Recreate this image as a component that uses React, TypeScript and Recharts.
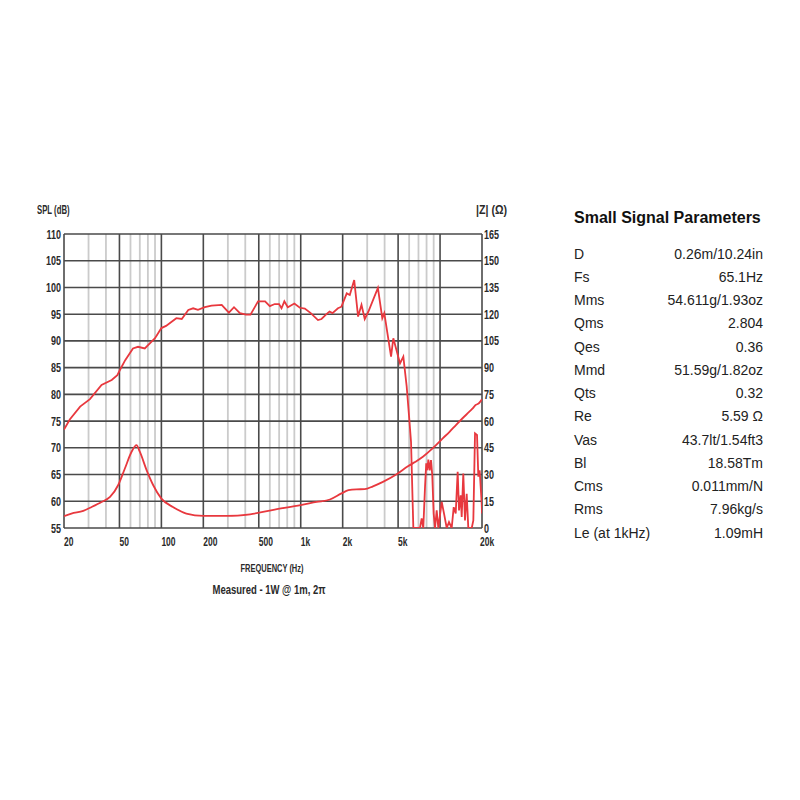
import React from "react";
import { LineChart, Line, XAxis, YAxis, ReferenceLine } from "recharts";

// ---- data ----
const splFreq = [20, 22, 26.1, 30.7, 37.2, 44, 48.3, 50.5, 55, 62.5, 68, 76, 90, 100, 108, 128, 140, 156, 169, 183, 205, 229, 271, 305, 332, 366, 404, 436, 494, 555, 600, 651, 699, 728, 763, 808, 900, 986, 1070, 1180, 1330, 1410, 1530, 1610, 1690, 1850, 1960, 2140, 2250, 2420, 2580, 2730, 2880, 3060, 3580, 3850, 3980, 4450, 4620, 5160, 5450, 5760, 6020, 6190, 6430, 7180, 7380, 7580, 7800, 7960, 8100, 8240, 8430, 8610, 8790, 9000, 9200, 9460, 9720, 10280, 10730, 11160, 11590, 12120, 12530, 12950, 13380, 13680, 14060, 14300, 14680, 15100, 15530, 15950, 16880, 17330, 17820, 18420, 18820, 19250, 19900, 20000];
const splDb = [73.4, 75.3, 77.7, 79.1, 81.75, 82.7, 83.6, 84.6, 86.4, 88.6, 88.9, 88.6, 90.5, 92.4, 92.8, 94.25, 94.1, 95.8, 96.1, 95.8, 96.3, 96.6, 96.75, 95.3, 96.3, 95.2, 94.9, 94.9, 97.4, 97.4, 96.5, 96.9, 96.9, 96.1, 97.4, 96.3, 97.0, 96.2, 96.05, 95.2, 93.9, 94.1, 95.0, 95.5, 95.2, 96.1, 96.4, 98.9, 98.6, 101.4, 94.55, 96.75, 94.1, 95.5, 99.9, 94.25, 95.2, 87.05, 90.5, 85.8, 87.05, 81.5, 75.2, 71.1, 55, 55, 56.8, 55, 62.7, 67.1, 65.8, 67.8, 65.8, 67.7, 64.9, 57.7, 55, 58.3, 55, 59.9, 57.4, 55, 56.1, 55, 58.9, 57.7, 65.5, 58.3, 61.1, 57.05, 65.2, 56.4, 61.4, 55, 55, 56.4, 72.7, 72.4, 64.6, 65.8, 59.6, 57.7];

const zFreq = [20, 22.6, 27.5, 31.6, 37.2, 42.8, 48.9, 54.7, 61.1, 66.3, 70, 78.3, 87.4, 100, 121, 151, 200, 294, 433, 651, 999, 1300, 1620, 1960, 2200, 2510, 2880, 3300, 3890, 4850, 5880, 6600, 7530, 8880, 10450, 11700, 13000, 14500, 16100, 17000, 18000, 19000, 20000];
const zOhm = [6.6, 8.1, 9.6, 11.8, 14.6, 17.4, 24.0, 33.4, 42.8, 46.5, 42.8, 32.5, 24.0, 16.5, 11.8, 8.1, 6.75, 6.75, 7.7, 10.3, 12.8, 14.6, 16.0, 19.4, 21.2, 21.7, 21.8, 23.4, 25.9, 30.0, 34.6, 37.0, 40.0, 44.8, 50.3, 54.0, 57.8, 61.6, 65.0, 66.8, 69.0, 70.0, 72.2];

const freqTicks = [20, 50, 100, 200, 500, 1000, 2000, 5000, 10000, 20000];
const freqTickLabels = ["20", "50", "100", "200", "500", "1k", "2k", "5k", "10k", "20k"];
const minorFreqs = [30, 40, 60, 70, 80, 90, 300, 400, 600, 700, 800, 900, 3000, 4000, 6000, 7000, 8000, 9000];
const splTicks = [55, 60, 65, 70, 75, 80, 85, 90, 95, 100, 105, 110];
const zTicks = [0, 15, 30, 45, 60, 75, 90, 105, 120, 135, 150, 165];

const paramNames = ["D", "Fs", "Mms", "Qms", "Qes", "Mmd", "Qts", "Re", "Vas", "Bl", "Cms", "Rms", "Le (at 1kHz)"];
const paramValues = ["0.26m/10.24in", "65.1Hz", "54.611g/1.93oz", "2.804", "0.36", "51.59g/1.82oz", "0.32", "5.59 Ω", "43.7lt/1.54ft3", "18.58Tm", "0.011mm/N", "7.96kg/s", "1.09mH"];

const splData = splFreq.map((f, i) => ({ f, v: splDb[i] }));
const zData = zFreq.map((f, i) => ({ f, v: zOhm[i] }));

const RED = "#e8383e";
const MAJOR = "#4a4a4a";
const MINOR = "#cbcbcb";
const CFONT = "'Liberation Sans', Arial, Helvetica, sans-serif";
const TFONT = "'Liberation Sans', Arial, Helvetica, sans-serif";
const TXT = "#2a2a2a";

const XTick = (props: any) => {
  const { x, y, payload } = props;
  const i = freqTicks.indexOf(payload.value);
  const label = i >= 0 ? freqTickLabels[i] : String(payload.value);
  const off = label === "20k" ? -2 : 0;
  return (
    <g transform={`translate(${x + off},${y + 16})`}>
      <text transform="scale(0.68,1)" x={0} y={0} textAnchor="start" fontSize={12.5} fontWeight={700} fill={TXT} fontFamily={CFONT}>
        {label}
      </text>
    </g>
  );
};

const YTick = (props: any) => {
  const { x, y, payload, side } = props;
  return (
    <g transform={`translate(${x},${y})`}>
      <text transform="scale(0.72,1)" x={0} y={0} dy="0.36em" textAnchor={side === "left" ? "end" : "start"} fontSize={12.5} fontWeight={700} fill={TXT} fontFamily={CFONT}>
        {payload.value}
      </text>
    </g>
  );
};

export default function App() {
  return (
    <div style={{ position: "absolute", left: 0, top: 0, width: 800, height: 800, background: "#fff", overflow: "hidden" }}>
      <div style={{ position: "absolute", left: 0, top: 0 }}>
        <LineChart width={540} height={620} margin={{ top: 234, left: 24, right: 18, bottom: 62 }}>
          <XAxis
            dataKey="f"
            type="number"
            scale="log"
            domain={[20, 20000]}
            ticks={freqTicks}
            allowDataOverflow
            tickLine={false}
            axisLine={false}
            tickSize={0}
            tickMargin={2}
            height={30}
            tick={<XTick />}
          />
          <YAxis
            yAxisId="left"
            orientation="left"
            type="number"
            domain={[55, 110]}
            ticks={splTicks}
            allowDataOverflow
            width={40}
            tickLine={false}
            axisLine={false}
            tickSize={0}
            tickMargin={3}
            tick={<YTick side="left" />}
          />
          <YAxis
            yAxisId="right"
            orientation="right"
            type="number"
            domain={[0, 165]}
            ticks={zTicks}
            allowDataOverflow
            width={40}
            tickLine={false}
            axisLine={false}
            tickSize={0}
            tickMargin={2}
            tick={<YTick side="right" />}
          />
          {minorFreqs.map((f) => (
            <ReferenceLine key={"m" + f} x={f} yAxisId="left" stroke={MINOR} strokeWidth={1.8} />
          ))}
          {splTicks.map((t) => (
            <ReferenceLine key={"h" + t} y={t} yAxisId="left" stroke={MAJOR} strokeWidth={1.6} />
          ))}
          {freqTicks.map((f) => (
            <ReferenceLine key={"M" + f} x={f} yAxisId="left" stroke={MAJOR} strokeWidth={1.6} />
          ))}
          <Line
            data={splData}
            dataKey="v"
            yAxisId="left"
            type="linear"
            stroke={RED}
            strokeWidth={1.8}
            dot={false}
            isAnimationActive={false}
          />
          <Line
            data={zData}
            dataKey="v"
            yAxisId="right"
            type="monotone"
            stroke={RED}
            strokeWidth={1.8}
            dot={false}
            isAnimationActive={false}
          />
        </LineChart>
      </div>

      <div style={{ position: "absolute", left: 37, top: 203, fontFamily: CFONT, fontSize: 12.5, fontWeight: 700, color: TXT, whiteSpace: "nowrap", transform: "scaleX(0.62)", transformOrigin: "left center" }}>SPL (dB)</div>
      <div style={{ position: "absolute", left: 476, top: 203, fontFamily: CFONT, fontSize: 12.5, fontWeight: 700, color: TXT, whiteSpace: "nowrap", transform: "scaleX(0.85)", transformOrigin: "left center" }}>|Z| (Ω)</div>
      <div style={{ position: "absolute", left: 172, width: 200, textAlign: "center", top: 562, fontFamily: CFONT, fontSize: 11, fontWeight: 700, color: TXT, whiteSpace: "nowrap", transform: "scaleX(0.68)", transformOrigin: "center center" }}>FREQUENCY (Hz)</div>
      <div style={{ position: "absolute", left: 169, width: 200, textAlign: "center", top: 582, fontFamily: CFONT, fontSize: 13, fontWeight: 700, color: TXT, whiteSpace: "nowrap", transform: "scaleX(0.73)", transformOrigin: "center center" }}>Measured - 1W @ 1m, 2π</div>

      <div style={{ position: "absolute", left: 574, top: 209, fontFamily: TFONT, fontSize: 16, fontWeight: 700, color: "#111", whiteSpace: "nowrap" }}>Small Signal Parameters</div>
      {paramNames.map((n, i) => (
        <div key={n} style={{ position: "absolute", left: 574, top: 244.5 + i * 23.25, width: 189, height: 18, fontFamily: TFONT, fontSize: 14, color: "#222", display: "flex", justifyContent: "space-between", whiteSpace: "nowrap", lineHeight: "18px" }}>
          <span>{n}</span>
          <span>{paramValues[i]}</span>
        </div>
      ))}
    </div>
  );
}
